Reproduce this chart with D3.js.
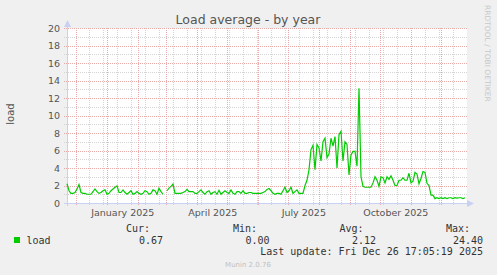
<!DOCTYPE html>
<meta charset="utf-8">
<html>
<head><title>Load average - by year</title></head>
<style>
body { margin: 0; background: #f0f0f0; }
svg text { font-family: "DejaVu Sans", sans-serif; }
.mono { font-family: "DejaVu Sans Mono", monospace; font-size: 10px; fill: #333; }
</style>
<body>
<script src="https://d3js.org/d3.v7.min.js"></script>
<svg id="graph" width="497" height="275"></svg>
<script>

// rrd style data: start time, step, values (null = unknown)
var start = Date.UTC(2024, 10, 21, 17, 5, 19);
var DAY = 864e5;
var stepDays = 2;
var load = [
  2.2, 1.4, 1.1, 1.1, 1.2, 1.6, 2.1, 1.2, 1.1, 1.1,
  1.0, 1.0, 1.0, 1.3, 1.6, 1.3, 1.1, 1.2, 1.4, 1.5,
  1.0, 1.1, 1.4, 1.6, 1.8, 1.95, 1.2, 1.2, 1.5, 1.2,
  1.0, 1.2, 1.4, 1.0, 1.1, 1.3, 1.1, 1.0, 1.1, 1.4,
  1.3, 1.0, 1.1, 1.5, 1.4, 1.0, 1.7, 1.3, 1.0, null,
  1.4, 1.7, 1.9, 2.17, 1.1, 1.1, 1.1, 1.1, 1.2, 1.3,
  1.55, 1.3, 1.3, 1.3, 1.1, 1.1, 1.3, 1.5, 1.2, 1.0,
  1.3, 1.4, 1.0, 1.2, 1.3, 1.0, 1.45, 1.0, 1.2, 1.4,
  1.2, 1.1, 1.5, 1.1, 1.0, 1.3, 1.3, 1.1, 1.4, 1.1,
  1.1, 1.2, 1.2, 1.1, 1.1, 1.1, 1.1, 1.1, 1.2, 1.3,
  1.55, 1.65, 1.4, 1.1, 1.0, 1.1, 1.1, 1.0, 1.4, 1.8,
  1.2, 1.4, 1.8, 1.1, 1.3, 1.5, 1.1, 1.1, 1.1, 2.0,
  2.6, 3.8, 6.1, 6.6, 3.8, 6.7, 6.3, 4.8, 7.0, 7.4,
  5.2, 5.6, 7.4, 6.5, 7.6, 4.0, 7.8, 8.2, 4.8, 7.0,
  6.7, 3.2, 5.5, 5.9, 5.9, 4.2, 13.1, 3.0, 1.9, 1.8,
  1.8, 1.8, 1.8, 2.3, 3.0, 2.6, 1.9, 3.0, 2.9, 2.3,
  3.0, 2.7, 3.1, 2.6, 2.0, 2.0, 2.6, 2.6, 2.9, 2.6,
  2.6, 3.4, 2.3, 2.5, 3.5, 3.3, 2.2, 2.8, 3.6, 3.5,
  2.25, 2.0, 0.9, 0.9, 0.5, 0.6, 0.5, 0.6, 0.5, 0.6,
  0.5, 0.6, 0.6, 0.5, 0.6, 0.55, 0.6, 0.6, 0.5, 0.6
];

var yTicks = [0, 2, 4, 6, 8, 10, 12, 14, 16, 18, 20];
var monthLabels = ["January 2025", "April 2025", "July 2025", "October 2025"];
var monthDates = [Date.UTC(2025, 0, 1), Date.UTC(2025, 3, 1), Date.UTC(2025, 6, 1), Date.UTC(2025, 9, 1)];
var statNames = ["Cur:", "Min:", "Avg:", "Max:"];
var statValues = ["0.67", "0.00", "2.12", "24.40"];

var svg = d3.select("#graph");
var gLeft = 67, gRight = 467, gTop = 28, gBottom = 203;

var x = d3.scaleUtc()
  .domain([start, start + 400 * DAY])
  .range([gLeft, gRight]);
var y = d3.scaleLinear()
  .domain([0, 20])
  .range([gBottom, gTop]);

// canvas
svg.append("rect")
  .attr("x", gLeft).attr("y", gTop)
  .attr("width", gRight - gLeft).attr("height", gBottom - gTop)
  .attr("fill", "#fff");

var grid = svg.append("g").attr("shape-rendering", "crispEdges");
var minorColor = "#d4d4d4", majorColor = "#eaaaaa";

// minor grid: every unit and every two weeks
grid.selectAll("line.hminor")
  .data(d3.range(1, 20, 2))
  .enter().append("line")
  .attr("x1", gLeft - 3).attr("x2", gRight)
  .attr("y1", function(d) { return Math.round(y(d)) + 0.5; })
  .attr("y2", function(d) { return Math.round(y(d)) + 0.5; })
  .attr("stroke", minorColor).attr("stroke-dasharray", "1,1");

grid.selectAll("line.vminor")
  .data(d3.utcDay.range(Date.UTC(2024, 11, 14), start + 400 * DAY, 14))
  .enter().append("line")
  .attr("x1", function(d) { return Math.round(x(d)) + 0.5; })
  .attr("x2", function(d) { return Math.round(x(d)) + 0.5; })
  .attr("y1", gTop).attr("y2", gBottom + 3)
  .attr("stroke", minorColor).attr("stroke-dasharray", "1,1");

// major grid: every two units and every month
grid.selectAll("line.hmajor")
  .data(yTicks.slice(1))
  .enter().append("line")
  .attr("x1", gLeft - 3).attr("x2", gRight)
  .attr("y1", function(d) { return Math.round(y(d)) + 0.5; })
  .attr("y2", function(d) { return Math.round(y(d)) + 0.5; })
  .attr("stroke", majorColor).attr("stroke-dasharray", "1,1");

grid.selectAll("line.vmajor")
  .data(d3.utcMonth.range(start, start + 400 * DAY))
  .enter().append("line")
  .attr("x1", function(d) { return Math.round(x(d)) + 0.5; })
  .attr("x2", function(d) { return Math.round(x(d)) + 0.5; })
  .attr("y1", gTop).attr("y2", gBottom + 3)
  .attr("stroke", majorColor).attr("stroke-dasharray", "1,1");

// axes
var axisColor = "#c8d0f4";
grid.append("line")
  .attr("x1", gLeft + 0.5).attr("x2", gLeft + 0.5)
  .attr("y1", gBottom + 3).attr("y2", 24)
  .attr("stroke", axisColor);
grid.append("line")
  .attr("x1", gLeft - 3).attr("x2", 470)
  .attr("y1", gBottom + 0.5).attr("y2", gBottom + 0.5)
  .attr("stroke", axisColor);
svg.append("path")
  .attr("d", "M" + (gLeft - 3) + ",27 L" + (gLeft + 0.5) + ",20 L" + (gLeft + 4) + ",27 Z")
  .attr("fill", axisColor);
svg.append("path")
  .attr("d", "M467," + (gBottom - 3) + " L474," + (gBottom + 0.5) + " L467," + (gBottom + 4) + " Z")
  .attr("fill", axisColor);

// tick labels
svg.selectAll("text.ytick")
  .data(yTicks)
  .enter().append("text")
  .attr("x", 60)
  .attr("y", function(d) { return y(d) + 3.5; })
  .attr("text-anchor", "end")
  .style("font-size", "9.5px")
  .style("fill", "#555")
  .text(function(d) { return d; });

svg.selectAll("text.xtick")
  .data(monthDates)
  .enter().append("text")
  .attr("x", function(d) { return x(d + 15.5 * DAY); })
  .attr("y", 215.5)
  .attr("text-anchor", "middle")
  .style("font-size", "9.5px")
  .style("fill", "#555")
  .text(function(d, i) { return monthLabels[i]; });

// the series
var line = d3.line()
  .defined(function(d) { return d != null; })
  .x(function(d, i) { return x(start + i * stepDays * DAY); })
  .y(function(d) { return y(d); });

svg.append("path")
  .datum(load)
  .attr("d", line)
  .attr("fill", "none")
  .attr("stroke", "#00cc00")
  .attr("stroke-width", 1.2);

// title and labels
svg.append("text")
  .attr("x", 248).attr("y", 24)
  .attr("text-anchor", "middle")
  .style("font-size", "12.5px")
  .style("fill", "#555")
  .text("Load average - by year");

svg.append("text")
  .attr("transform", "translate(14,114) rotate(-90)")
  .attr("text-anchor", "middle")
  .style("font-size", "10px")
  .style("fill", "#555")
  .text("load");

svg.append("text")
  .attr("transform", "translate(485,5) rotate(90)")
  .attr("text-anchor", "start")
  .style("font-size", "7.5px")
  .style("fill", "#c8c8c8")
  .text("RRDTOOL / TOBI OETIKER");

// legend
var statX = [150, 257, 363.5, 470];
var valX = [163, 269.5, 376, 483];
svg.selectAll("text.stat")
  .data(statNames)
  .enter().append("text")
  .attr("class", "mono")
  .attr("x", function(d, i) { return statX[i]; })
  .attr("y", 231.5)
  .attr("text-anchor", "end")
  .text(function(d) { return d; });

svg.append("rect")
  .attr("x", 14).attr("y", 237)
  .attr("width", 6).attr("height", 6)
  .attr("fill", "#00cc00");
svg.append("text")
  .attr("class", "mono")
  .attr("x", 26.5).attr("y", 243.5)
  .text("load");

svg.selectAll("text.val")
  .data(statValues)
  .enter().append("text")
  .attr("class", "mono")
  .attr("x", function(d, i) { return valX[i]; })
  .attr("y", 243.5)
  .attr("text-anchor", "end")
  .text(function(d) { return d; });

svg.append("text")
  .attr("class", "mono")
  .attr("x", 483).attr("y", 255)
  .attr("text-anchor", "end")
  .text("Last update: Fri Dec 26 17:05:19 2025");

svg.append("text")
  .attr("x", 248).attr("y", 266.5)
  .attr("text-anchor", "middle")
  .style("font-size", "7px")
  .style("fill", "#c0c0c0")
  .text("Munin 2.0.76");

</script>
</body>
</html>
